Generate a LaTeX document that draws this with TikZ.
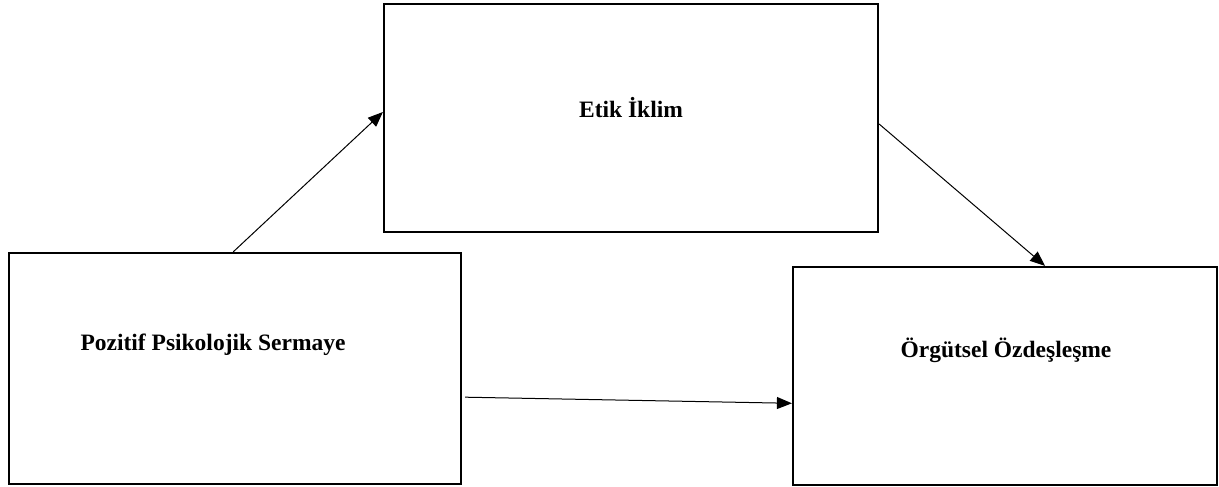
\documentclass[tikz,border=0pt]{standalone}
\usepackage{fontspec}
\setmainfont{Liberation Serif}
\usetikzlibrary{arrows.meta,calc}
\tikzset{
  box/.style={draw=black, line width=2.2pt, fill=white, inner sep=0pt, rectangle},
  lbl/.style={font=\fontsize{23.5}{27}\selectfont\bfseries, inner sep=0pt, anchor=center},
  arr/.style={line width=1pt, -{Triangle[length=15pt,width=12pt]}}
}
\begin{document}
\begin{tikzpicture}[x=1pt,y=-1pt]
\useasboundingbox (0,0) rectangle (1219,487);
\fill[white] (0,0) rectangle (1219,487);
% boxes
\node[box, minimum width=494pt, minimum height=228pt] (etik) at (631,118) {};
\node[box, minimum width=452pt, minimum height=231pt] (poz) at (235,368.5) {};
\node[box, minimum width=424pt, minimum height=218pt] (org) at (1005,376) {};
% labels
\node[lbl] (etikt) at (631,108) {Etik İklim};
\node[lbl] (pozt) at (213,345) {Pozitif Psikolojik Sermaye};
\node[lbl] (orgt) at (1006,350) {Örgütsel Özdeşleşme};
% connectors
\coordinate (a1) at ($(poz.north west)!0.496!(poz.north east)$);
\coordinate (a2) at ($(etik.north west)!0.474!(etik.south west)$);
\coordinate (b1) at ($(etik.north east)!0.526!(etik.south east)$);
\coordinate (b2) at ($(org.north west)!0.594!(org.north east)$);
\coordinate (c1) at ($(poz.north east)!0.623!(poz.south east)+(3,0)$);
\coordinate (c2) at ($(org.north west)!0.624!(org.south west)$);
\draw[arr] (a1) -- (a2);
\draw[arr] (b1) -- (b2);
\draw[arr] (c1) -- (c2);
\end{tikzpicture}
\end{document}
